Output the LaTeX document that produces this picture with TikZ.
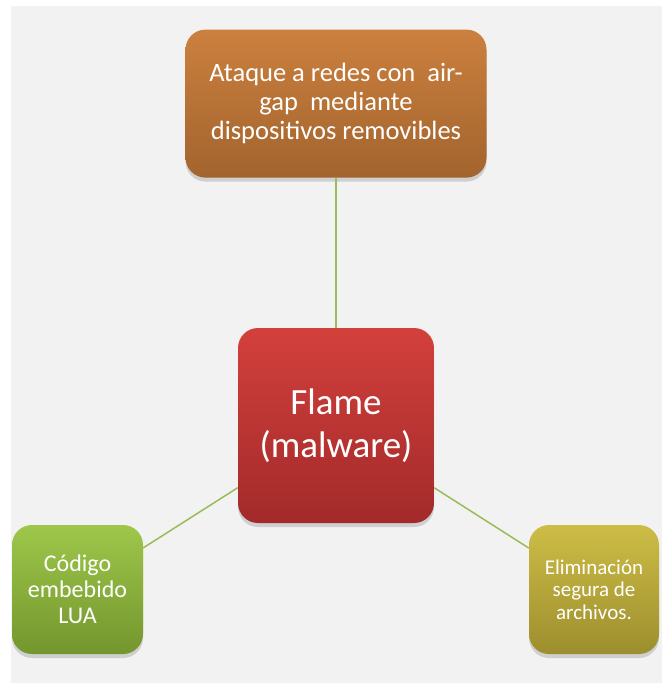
\documentclass[tikz,border=0pt]{standalone}
\usepackage{fontspec}
\setmainfont{Carlito}
\usepackage{tikz}
\usetikzlibrary{positioning,shadows}

\definecolor{bggray}{RGB}{242,242,242}
\definecolor{linkgreen}{RGB}{155,187,89}
\definecolor{orangetop}{RGB}{204,128,62}
\definecolor{orangebot}{RGB}{162,100,46}
\definecolor{redtop}{RGB}{211,64,60}
\definecolor{redbot}{RGB}{162,42,42}
\definecolor{greentop}{RGB}{158,199,74}
\definecolor{greenbot}{RGB}{115,150,46}
\definecolor{olivetop}{RGB}{205,189,70}
\definecolor{olivebot}{RGB}{157,142,46}

\begin{document}
\begin{tikzpicture}[x=1pt,y=-1pt,
  box/.style={rectangle, rounded corners=20pt, inner sep=0pt, align=center,
    text=white, drop shadow={shadow xshift=0pt, shadow yshift=-4pt, opacity=0.3}},
  link/.style={color=linkgreen, line width=1.5pt}]
  \useasboundingbox (0,0) rectangle (662,683);
  \fill[bggray] (11,6) rectangle (662,683);
  \node[box, top color=redtop, bottom color=redbot,
    minimum width=196pt, minimum height=195pt,
    font=\fontsize{37}{43}\selectfont] (flame) at (336,425.5) {Flame\\(malware)};
  \node[box, top color=orangetop, bottom color=orangebot,
    minimum width=301pt, minimum height=148pt,
    font=\fontsize{26.5}{28.8}\selectfont] (airgap) [above=150pt of flame]
    {Ataque a redes con\ \ air-\\gap\ \ mediante\\dispositivos removibles};
  \node[box, top color=greentop, bottom color=greenbot,
    minimum width=131pt, minimum height=129pt,
    font=\fontsize{24}{26}\selectfont] (lua) at (77.5,589.5) {Código\\embebido\\LUA};
  \node[box, top color=olivetop, bottom color=olivebot,
    minimum width=130pt, minimum height=129pt,
    font=\fontsize{21}{22.5}\selectfont] (borrado) at (594,589.5)
    {Eliminación\\segura de\\archivos.};
  \path[link]
    (flame) edge (airgap)
    (flame) edge (lua)
    (flame) edge (borrado);
\end{tikzpicture}
\end{document}
